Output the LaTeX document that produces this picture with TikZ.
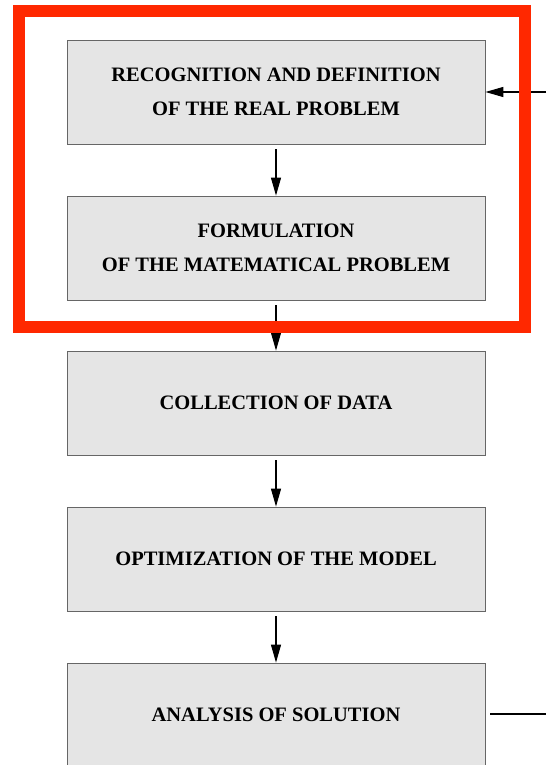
\documentclass[tikz,border=0pt]{standalone}
\usepackage{fontspec}
\setmainfont{Liberation Serif}
\usetikzlibrary{arrows.meta}

\definecolor{framered}{RGB}{255,40,0}
\tikzset{
  stagebox/.style={draw=black!60, fill=black!10, line width=0.8pt, minimum width=418pt, minimum height=104pt,
    inner sep=0pt, align=center, font=\fontsize{20.5}{34}\selectfont\bfseries},
  flow/.style={line width=1.2pt, -{Triangle[length=18pt,width=10pt]}}
}

\begin{document}
\begin{tikzpicture}[x=1pt,y=-1pt]
			\clip (0,0) rectangle (546,765);
			\fill[white] (0,0) rectangle (546,765);
			\node[stagebox] (recog) at (276,92) {RECOGNITION AND DEFINITION\hspace{10pt}\\ OF THE REAL PROBLEM};
			\node[stagebox] (formul) at (276,248) {FORMULATION\\ OF THE MATEMATICAL PROBLEM};
			\node[stagebox] (collect) at (276,403) {COLLECTION OF DATA};
			\node[stagebox] (optim) at (276,559) {OPTIMIZATION OF THE MODEL};
			\node[stagebox] (analys) at (276,715) {ANALYSIS OF SOLUTION};
			\coordinate (backin) at (546,92);
			\coordinate (backout) at (546,714);
			\draw[flow, shorten <=5pt] (recog) -- (formul);
			\draw[flow, shorten <=5pt] (formul) -- (collect);
			\draw[flow, shorten <=5pt] (collect) -- (optim);
			\draw[flow, shorten <=5pt] (optim) -- (analys);
			\draw[flow] (backin) -- (recog.east);
			\draw[line width=1.2pt, shorten <=5pt] (analys.east |- backout) -- (backout);
			\draw[framered, line width=12pt] (19,11) rectangle (525,327);
			\end{tikzpicture}
\end{document}
